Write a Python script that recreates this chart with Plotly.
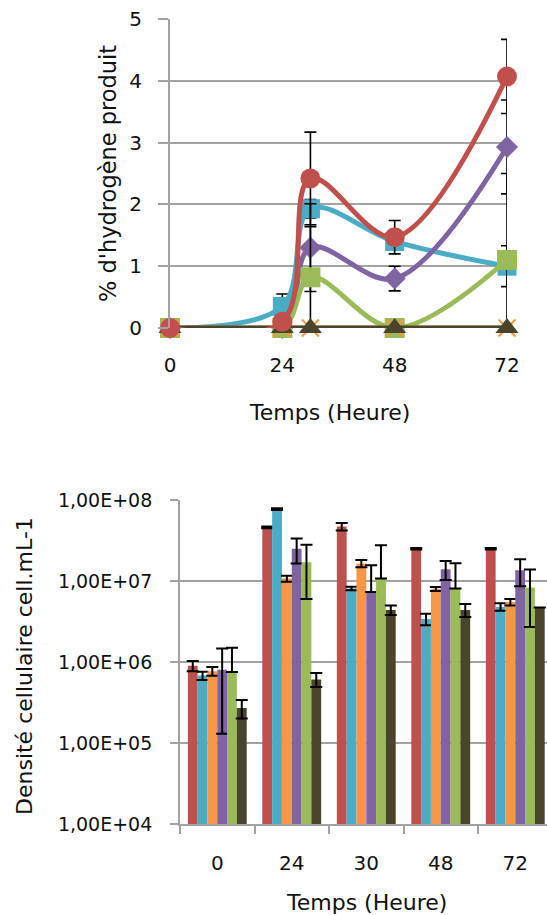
import plotly.graph_objects as go

# ---------------- Top chart data (% hydrogen) ----------------
hours = [0, 24, 30, 48, 72]
h2_cyan = [0, 0.35, 1.93, 1.40, 1.00]
h2_purple = [0, 0.0, 1.30, 0.80, 2.93]
h2_green = [0, 0.0, 0.82, 0.0, 1.10]
h2_orange = [0, 0, 0, 0, 0]
h2_olive = [0, 0, 0, 0, 0]
h2_red = [0, 0.10, 2.42, 1.47, 4.07]
err_cyan = [0, 0.20, 0.15, 0.10, 0.33]
err_purple = [0, 0, 0.71, 0.20, 0.76]
err_green = [0, 0, 0.82, 0, 1.40]
err_red = [0, 0, 0.75, 0.27, 0.60]
h2_xticks = [0, 24, 48, 72]

# ---------------- Bottom chart data (cell density) ----------------
bar_cats = ["0", "24", "30", "48", "72"]
dens_red = [9.0e5, 4.6e7, 4.7e7, 2.5e7, 2.5e7]
dens_red_err = [1.3e5, 1.2e6, 5.0e6, 6.0e5, 6.0e5]
dens_cyan = [6.8e5, 7.7e7, 8.1e6, 3.4e6, 4.8e6]
dens_cyan_err = [8.0e4, 2.0e6, 4.0e5, 5.5e5, 5.0e5]
dens_orange = [7.7e5, 1.07e7, 1.65e7, 8.0e6, 5.5e6]
dens_orange_err = [9.5e4, 9.0e5, 1.7e6, 4.5e5, 5.0e5]
dens_purple = [8.0e5, 2.5e7, 7.3e6, 1.4e7, 1.36e7]
dens_purple_plus = [6.7e5, 8.5e6, 8.3e6, 3.7e6, 5.0e6]
dens_purple_minus = [6.7e5, 8.5e6, 0, 3.7e6, 5.0e6]
dens_green = [7.5e5, 1.7e7, 1.07e7, 8.1e6, 8.3e6]
dens_green_plus = [7.5e5, 1.1e7, 1.7e7, 8.5e6, 5.6e6]
dens_green_minus = [0, 1.1e7, 0, 0, 5.6e6]
dens_olive = [2.7e5, 6.1e5, 4.4e6, 4.4e6, 4.7e6]
dens_olive_err = [7.0e4, 1.2e5, 6.0e5, 8.0e5, 0]
dens_tickvals = [1e4, 1e5, 1e6, 1e7, 1e8]
dens_ticktext = ["1,00E+04", "1,00E+05", "1,00E+06", "1,00E+07", "1,00E+08"]

RED = "#C0504D"
CYAN = "#4BACC6"
ORANGE = "#F79646"
PURPLE = "#8064A2"
GREEN = "#9BBB59"
OLIVE = "#4A442A"
GRID = "#A3A3A3"
TXT = "#111111"

W, H = 547, 915
fig = go.Figure()


def err(arr):
    return dict(type="data", array=arr, visible=True, color="black",
                thickness=1.6, width=6)


def line_trace(y, color, symbol, size, e=None, mline=None):
    marker = dict(symbol=symbol, size=size, color=color)
    if mline:
        marker["line"] = mline
    return go.Scatter(
        x=hours, y=y, mode="lines+markers",
        line=dict(color=color, width=5, shape="spline", smoothing=1),
        marker=marker, error_y=err(e) if e else None,
        cliponaxis=False, xaxis="x", yaxis="y")


fig.add_trace(line_trace(h2_cyan, CYAN, "square", 19, err_cyan))
fig.add_trace(line_trace(h2_purple, PURPLE, "diamond", 17, err_purple))
fig.add_trace(line_trace(h2_green, GREEN, "square", 20, err_green))
fig.add_trace(line_trace(h2_orange, ORANGE, "x-thin", 17, None,
                         dict(color=ORANGE, width=2)))
fig.add_trace(line_trace(h2_olive, OLIVE, "triangle-up", 20))
fig.add_trace(line_trace(h2_red, RED, "circle", 20, err_red))


def bar_trace(y, color, plus, minus=None):
    e = dict(type="data", array=plus, color="black", thickness=2, width=6,
             visible=True)
    if minus is not None:
        e["symmetric"] = False
        e["arrayminus"] = minus
    return go.Bar(x=bar_cats, y=y, marker=dict(color=color, line=dict(width=0)),
                  error_y=e, xaxis="x2", yaxis="y2")


fig.add_trace(bar_trace(dens_red, RED, dens_red_err))
fig.add_trace(bar_trace(dens_cyan, CYAN, dens_cyan_err))
fig.add_trace(bar_trace(dens_orange, ORANGE, dens_orange_err))
fig.add_trace(bar_trace(dens_purple, PURPLE, dens_purple_plus, dens_purple_minus))
fig.add_trace(bar_trace(dens_green, GREEN, dens_green_plus, dens_green_minus))
fig.add_trace(bar_trace(dens_olive, OLIVE, dens_olive_err))

fig.update_layout(
    width=W, height=H,
    margin=dict(l=0, r=0, t=0, b=0, autoexpand=False),
    paper_bgcolor="white", plot_bgcolor="white",
    showlegend=False,
    barmode="group", bargap=0.21, bargroupgap=0,
    font=dict(family="DejaVu Sans", size=20, color=TXT),
    xaxis=dict(domain=[170 / W, 507 / W], range=[0, 72], tickvals=h2_xticks,
               showgrid=False, zeroline=False, showline=False,
               ticks="", ticklabelstandoff=23, anchor="y",
               tickfont=dict(size=20)),
    yaxis=dict(domain=[1 - 328 / H, 1 - 19 / H], range=[0, 5], dtick=1,
               showgrid=True, gridcolor=GRID, gridwidth=1.8,
               showline=True, linecolor=GRID, linewidth=1.8,
               ticks="outside", ticklen=10, tickcolor=GRID, tickwidth=1.8,
               zeroline=False, ticklabelstandoff=12, anchor="x",
               tickfont=dict(size=20)),
    xaxis2=dict(domain=[180 / W, 1.0], type="category", range=[-0.5, 4.426],
                anchor="y2", showgrid=False, zeroline=False,
                showline=True, linecolor=GRID, linewidth=1.8,
                ticks="outside", tickson="boundaries", ticklen=8,
                tickcolor=GRID, tickwidth=1.8, ticklabelstandoff=20,
                tickfont=dict(size=20)),
    yaxis2=dict(domain=[1 - 824 / H, 1 - 500 / H], type="log", range=[4, 8],
                anchor="x2", tickvals=dens_tickvals, ticktext=dens_ticktext,
                showgrid=True, gridcolor=GRID, gridwidth=1.8,
                showline=True, linecolor=GRID, linewidth=1.8,
                ticks="outside", ticklen=8, tickcolor=GRID, tickwidth=1.8,
                zeroline=False, ticklabelstandoff=14,
                tickfont=dict(size=19)),
    annotations=[
        dict(text="% d'hydrogène produit", x=108 / W, y=1 - 174 / H,
             xref="paper", yref="paper", showarrow=False, textangle=-90,
             xanchor="center", yanchor="middle", font=dict(size=22.5)),
        dict(text="Temps (Heure)", x=329 / W, y=1 - 412 / H,
             xref="paper", yref="paper", showarrow=False,
             xanchor="center", yanchor="middle", font=dict(size=22)),
        dict(text="Densité cellulaire cell.mL-1", x=24 / W, y=1 - 666 / H,
             xref="paper", yref="paper", showarrow=False, textangle=-90,
             xanchor="center", yanchor="middle", font=dict(size=22)),
        dict(text="Temps (Heure)", x=366 / W, y=1 - 902 / H,
             xref="paper", yref="paper", showarrow=False,
             xanchor="center", yanchor="middle", font=dict(size=22)),
    ],
)

fig.write_html("out.html", config={"displayModeBar": False},
               post_script="document.body.style.margin='0';document.body.style.overflow='hidden';")
